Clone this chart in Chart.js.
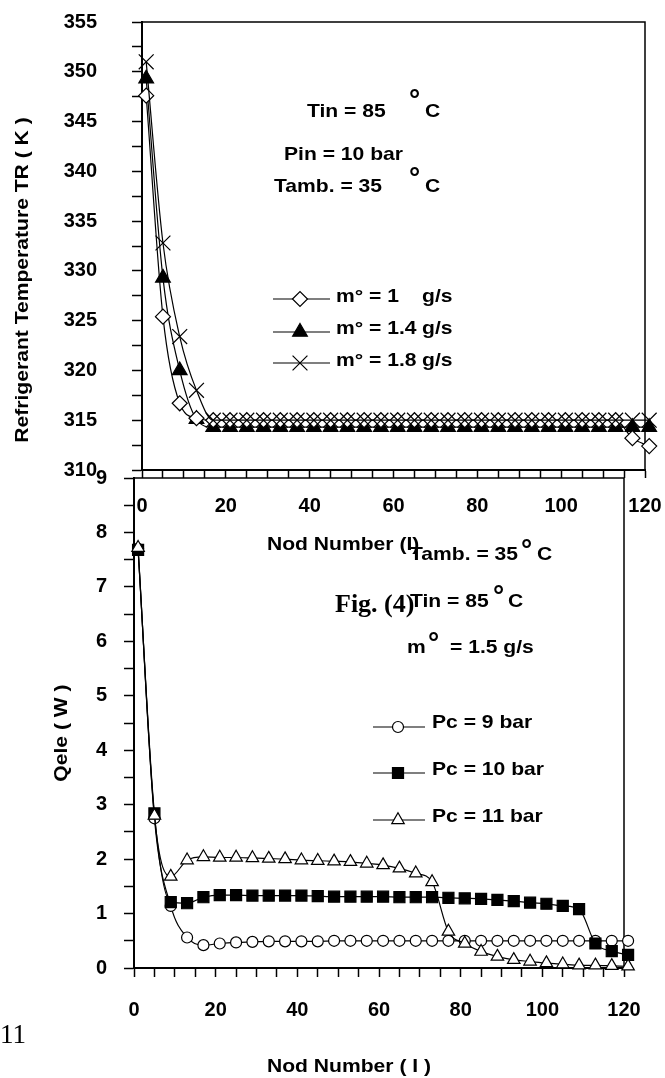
<!DOCTYPE html>
<html>
<head>
<meta charset="utf-8">
<script src="https://cdn.jsdelivr.net/npm/chart.js@4.4.1/dist/chart.umd.min.js"></script>
<style>
  html, body { margin: 0; padding: 0; background: #fff; }
  #page { position: relative; width: 665px; height: 1078px; overflow: hidden; }
  canvas { position: absolute; left: 0; }
  #temp-chart { top: 0; }
  #qele-chart { top: 400px; }
</style>
</head>
<body>
<div id="page">
  <canvas id="temp-chart" width="665" height="580"></canvas>
  <canvas id="qele-chart" width="665" height="678"></canvas>
</div>
<script>
// node numbers carrying a marker
const nodes = [1, 5, 9, 13, 17, 21, 25, 29, 33, 37, 41, 45, 49, 53, 57, 61,
  65, 69, 73, 77, 81, 85, 89, 93, 97, 101, 105, 109, 113, 117, 121];

// refrigerant temperature TR (K) for three mass flows
const tempM10 = [347.6, 325.4, 316.7, 315.2, 315.0, 315.0, 315.0, 315.0, 315.0, 315.0,
  315.0, 315.0, 315.0, 315.0, 315.0, 315.0, 315.0, 315.0, 315.0, 315.0, 315.0, 315.0,
  315.0, 315.0, 315.0, 315.0, 315.0, 315.0, 315.0, 313.2, 312.4];
const tempM14 = [349.3, 329.3, 320.0, 315.1, 314.3, 314.3, 314.3, 314.3, 314.3, 314.3,
  314.3, 314.3, 314.3, 314.3, 314.3, 314.3, 314.3, 314.3, 314.3, 314.3, 314.3, 314.3,
  314.3, 314.3, 314.3, 314.3, 314.3, 314.3, 314.3, 314.3, 314.3];
const tempM18 = [351.0, 332.8, 323.4, 318.0, 315.0, 315.0, 315.0, 315.0, 315.0, 315.0,
  315.0, 315.0, 315.0, 315.0, 315.0, 315.0, 315.0, 315.0, 315.0, 315.0, 315.0, 315.0,
  315.0, 315.0, 315.0, 315.0, 315.0, 315.0, 315.0, 315.0, 315.0];

// electric heat Qele (W) for three condenser pressures
const qelePc9 = [7.70, 2.75, 1.14, 0.56, 0.42, 0.45, 0.47, 0.48, 0.49, 0.49, 0.49, 0.49,
  0.50, 0.50, 0.50, 0.50, 0.50, 0.50, 0.50, 0.50, 0.50, 0.50, 0.50, 0.50, 0.50, 0.50,
  0.50, 0.50, 0.50, 0.50, 0.50];
const qelePc10 = [7.68, 2.84, 1.21, 1.19, 1.30, 1.34, 1.34, 1.33, 1.33, 1.33, 1.33, 1.32,
  1.31, 1.31, 1.31, 1.31, 1.30, 1.30, 1.30, 1.29, 1.28, 1.27, 1.25, 1.23, 1.20, 1.18,
  1.14, 1.08, 0.45, 0.31, 0.24];
const qelePc11 = [7.72, 2.80, 1.68, 1.98, 2.04, 2.03, 2.03, 2.02, 2.01, 2.00, 1.98, 1.97,
  1.96, 1.95, 1.92, 1.89, 1.83, 1.74, 1.58, 0.67, 0.45, 0.30, 0.21, 0.15, 0.12, 0.09,
  0.07, 0.05, 0.05, 0.04, 0.03];

// labelled ticks
const nodeLabels = [0, 20, 40, 60, 80, 100, 120];
const tempLabels = [310, 315, 320, 325, 330, 335, 340, 345, 350, 355];
const qeleLabels = [0, 1, 2, 3, 4, 5, 6, 7, 8, 9];

const SANS = "'Liberation Sans', Arial, Helvetica, sans-serif";
const SERIF = "'Liberation Serif', 'Times New Roman', serif";
const tickFont = { family: SANS, size: 20, weight: 'bold' };

Chart.defaults.color = '#000';
Chart.defaults.font.family = SANS;

function series(values, style, radius, fill, order) {
  return {
    data: values.map((v, i) => ({ x: nodes[i], y: v })),
    borderColor: '#000',
    borderWidth: 1.2,
    cubicInterpolationMode: 'monotone',
    pointStyle: style,
    pointRadius: radius,
    pointBackgroundColor: fill,
    pointBorderColor: '#000',
    pointBorderWidth: 1.2,
    clip: false,
    order: order
  };
}

function nodeAxis(tickLen, pad, height) {
  return {
    type: 'linear',
    min: 0,
    max: 120,
    border: { color: '#000', width: 2 },
    grid: { drawOnChartArea: false, color: '#000', tickLength: tickLen, tickWidth: 1.5 },
    ticks: {
      stepSize: 5,
      autoSkip: false,
      maxRotation: 0,
      padding: pad,
      font: tickFont,
      callback: v => nodeLabels.includes(v) ? v : ''
    },
    afterFit: s => { s.height = height; s.paddingLeft = 0; s.paddingRight = 0; }
  };
}

function valueAxis(min, max, step, labels, pad, width) {
  return {
    type: 'linear',
    min: min,
    max: max,
    border: { color: '#000', width: 2 },
    grid: { drawOnChartArea: false, color: '#000', tickLength: 10, tickWidth: 1.5 },
    ticks: {
      stepSize: step,
      autoSkip: false,
      padding: pad,
      font: tickFont,
      callback: v => labels.includes(v) ? v : ''
    },
    afterFit: s => { s.width = width; s.paddingTop = 0; s.paddingBottom = 0; }
  };
}

// top and right edges of the plot box
const frame = {
  id: 'frame',
  beforeDatasetsDraw(chart) {
    const a = chart.chartArea, ctx = chart.ctx;
    ctx.save();
    ctx.strokeStyle = '#000';
    ctx.lineWidth = 1.5;
    ctx.beginPath();
    ctx.moveTo(a.left, a.top);
    ctx.lineTo(a.right, a.top);
    ctx.lineTo(a.right, a.bottom);
    ctx.stroke();
    ctx.restore();
  }
};

// legend sample: short line with the dataset's marker on it
function keyPlugin(rows, dy) {
  return {
    id: 'key',
    afterDraw(chart) {
      const ctx = chart.ctx;
      rows.forEach(r => {
        const ds = chart.data.datasets[r.ds];
        const y = r.y - dy;
        ctx.save();
        ctx.strokeStyle = '#000';
        ctx.lineWidth = 1.2;
        ctx.beginPath();
        ctx.moveTo(r.x0, y);
        ctx.lineTo(r.x1, y);
        ctx.stroke();
        ctx.fillStyle = ds.pointBackgroundColor;
        ctx.lineWidth = ds.pointBorderWidth;
        Chart.helpers.drawPoint(ctx, {
          pointStyle: ds.pointStyle, radius: ds.pointRadius, rotation: 0, borderWidth: ds.pointBorderWidth
        }, r.mx, y);
        ctx.restore();
      });
    }
  };
}

// free text: conditions, legend labels, axis titles
function notesPlugin(items, dy) {
  return {
    id: 'notes',
    afterDraw(chart) {
      const ctx = chart.ctx;
      items.forEach(n => {
        ctx.save();
        ctx.fillStyle = '#000';
        ctx.font = n.deg ? 'bold 28px ' + SANS : (n.font || 'bold 18.5px ' + SANS);
        ctx.textAlign = n.align || 'left';
        ctx.textBaseline = n.base || 'alphabetic';
        ctx.translate(n.x, n.y - dy);
        if (n.rot) ctx.rotate(n.rot * Math.PI / 180);
        const sx = n.sx !== undefined ? n.sx : (n.deg ? 1 : 1.14);
        ctx.scale(sx, 1);
        ctx.fillText(n.t, 0, 0);
        ctx.restore();
      });
    }
  };
}

const tempNotes = [
  { t: 'Tin = 85', x: 307, y: 117 },
  { t: '°', x: 409, y: 109, deg: true },
  { t: 'C', x: 425, y: 117 },
  { t: 'Pin = 10 bar', x: 284, y: 160 },
  { t: 'Tamb. = 35', x: 274, y: 192 },
  { t: '°', x: 409, y: 187, deg: true },
  { t: 'C', x: 425, y: 192 },
  { t: 'm° = 1', x: 336, y: 302 },
  { t: 'g/s', x: 422, y: 302 },
  { t: 'm° = 1.4', x: 336, y: 334 },
  { t: 'g/s', x: 422, y: 334 },
  { t: 'm° = 1.8', x: 336, y: 366 },
  { t: 'g/s', x: 422, y: 366 },
  { t: 'Nod Number (I)', x: 267, y: 550 },
  { t: 'Refrigerant Temperature TR ( K )', x: 23, y: 280, rot: -90, align: 'center', base: 'middle' }
];

const qeleNotes = [
  { t: 'Tamb. = 35', x: 410, y: 560 },
  { t: '°', x: 521, y: 559, deg: true },
  { t: 'C', x: 537, y: 560 },
  { t: 'Fig. (4)', x: 335, y: 612, font: 'bold 26px ' + SERIF, sx: 1 },
  { t: 'Tin = 85', x: 410, y: 607 },
  { t: '°', x: 493, y: 605, deg: true },
  { t: 'C', x: 508, y: 607 },
  { t: 'm', x: 407, y: 653 },
  { t: '°', x: 428, y: 652, deg: true },
  { t: '= 1.5 g/s', x: 450, y: 653 },
  { t: 'Pc = 9 bar', x: 432, y: 728 },
  { t: 'Pc = 10 bar', x: 432, y: 775 },
  { t: 'Pc = 11 bar', x: 432, y: 822 },
  { t: 'Nod Number ( I )', x: 267, y: 1072 },
  { t: 'Qele ( W )', x: 62, y: 733, rot: -90, align: 'center', base: 'middle' },
  { t: '11', x: 0, y: 1043, font: '27px ' + SERIF, sx: 1 }
];

const baseOptions = {
  responsive: false,
  animation: false,
  events: [],
  devicePixelRatio: 1,
  plugins: { legend: { display: false }, tooltip: { enabled: false } }
};

// refrigerant temperature chart
const tempChart = new Chart(document.getElementById('temp-chart'), {
  type: 'line',
  data: {
    datasets: [
      series(tempM10, 'rectRot', 7.5, '#fff', 1),
      series(tempM14, 'triangle', 8.5, '#000', 2),
      series(tempM18, 'crossRot', 10.5, '#fff', 0)
    ]
  },
  options: Object.assign({}, baseOptions, {
    layout: { padding: { left: 0, top: 22, right: 20, bottom: 0 } },
    scales: {
      x: nodeAxis(8, 16, 110),
      y: valueAxis(310, 355, 2.5, tempLabels, 35, 142)
    }
  }),
  plugins: [frame,
    keyPlugin([
      { ds: 0, y: 299, x0: 273, x1: 330, mx: 300 },
      { ds: 1, y: 332, x0: 273, x1: 330, mx: 300 },
      { ds: 2, y: 363, x0: 273, x1: 330, mx: 300 }
    ], 0),
    notesPlugin(tempNotes, 0)]
});

// electric heat chart
const qeleChart = new Chart(document.getElementById('qele-chart'), {
  type: 'line',
  data: {
    datasets: [
      series(qelePc9, 'circle', 5.5, '#fff', 2),
      series(qelePc10, 'rect', 7.8, '#000', 1),
      series(qelePc11, 'triangle', 7.2, '#fff', 0)
    ]
  },
  options: Object.assign({}, baseOptions, {
    layout: { padding: { left: 0, top: 78, right: 41, bottom: 0 } },
    scales: {
      x: nodeAxis(9, 21, 110),
      y: valueAxis(0, 9, 0.5, qeleLabels, 17, 134)
    }
  }),
  plugins: [frame,
    keyPlugin([
      { ds: 0, y: 727, x0: 373, x1: 425, mx: 398 },
      { ds: 1, y: 773, x0: 373, x1: 425, mx: 398 },
      { ds: 2, y: 820, x0: 373, x1: 425, mx: 398 }
    ], 400),
    notesPlugin(qeleNotes, 400)]
});
</script>
</body>
</html>
